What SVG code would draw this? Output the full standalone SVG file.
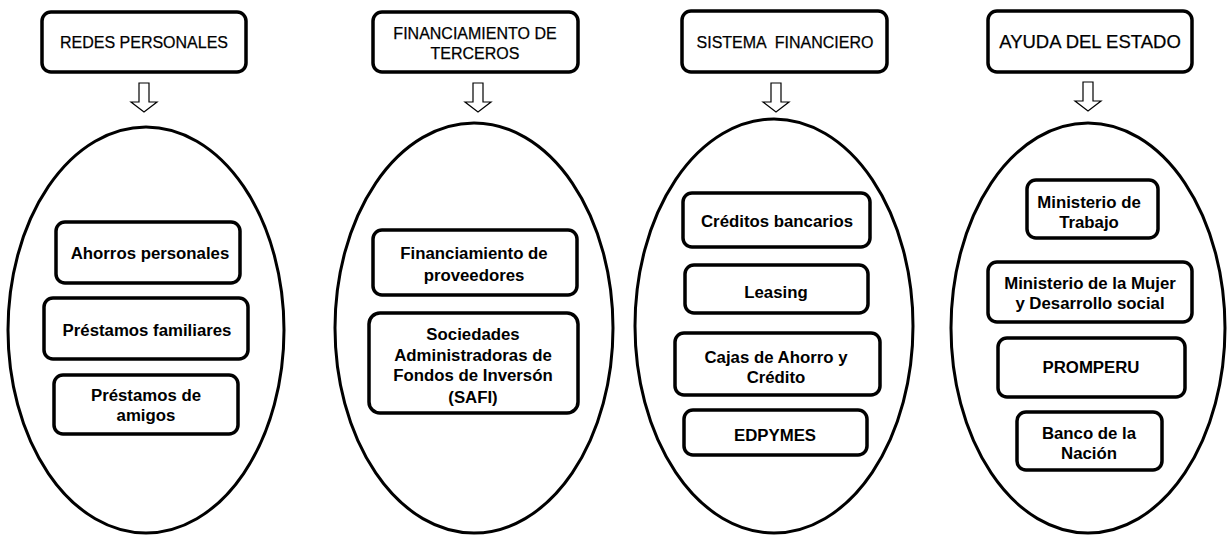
<svg xmlns="http://www.w3.org/2000/svg" width="1227" height="535" viewBox="0 0 1227 535">
<style>
.hdr{fill:#fff;stroke:#000;stroke-width:3.5}
.box{fill:#fff;stroke:#000;stroke-width:3.5}
.ell{fill:#fff;stroke:#000;stroke-width:3}
.arr{fill:#fff;stroke:#000;stroke-width:1.2;stroke-linejoin:miter}
.ht{font-family:"Liberation Sans",Arial,sans-serif;font-size:16px;fill:#000;text-anchor:middle;stroke:#000;stroke-width:0.25}
.bt{font-family:"Liberation Sans",Arial,sans-serif;font-size:16.8px;font-weight:bold;fill:#000;text-anchor:middle}
</style>
<defs>
<path id="darrow" d="M-5,0 H5 V19 H13 L0,29 L-13,19 H-5 Z"/>
</defs>
<rect width="1227" height="535" fill="#fff"/>

<g id="connectors">
<use href="#darrow" class="arr" transform="translate(144,83)"/>
<use href="#darrow" class="arr" transform="translate(478,83)"/>
<use href="#darrow" class="arr" transform="translate(776,83)"/>
<use href="#darrow" class="arr" transform="translate(1088,82)"/>
</g>

<g id="h-redes">
<rect class="hdr" x="42" y="12" width="204" height="60" rx="9"/>
<text class="ht" x="144" y="48">REDES PERSONALES</text>
</g>
<g id="h-financiamiento">
<rect class="hdr" x="373" y="12" width="205" height="60" rx="9"/>
<text class="ht" x="475" y="39">FINANCIAMIENTO DE</text>
<text class="ht" x="475" y="59">TERCEROS</text>
</g>
<g id="h-sistema">
<rect class="hdr" x="682" y="11" width="205" height="61" rx="9"/>
<text class="ht" x="785" y="48" font-size="16.5" xml:space="preserve">SISTEMA  FINANCIERO</text>
</g>
<g id="h-ayuda">
<rect class="hdr" x="988" y="11" width="204" height="61" rx="9"/>
<text class="ht" x="1090" y="48" style="font-size:18.5px">AYUDA DEL ESTADO</text>
</g>

<g id="e-redes">
<ellipse class="ell" cx="146" cy="330" rx="138" ry="203"/>
</g>
<g id="e-financiamiento">
<ellipse class="ell" cx="474" cy="328" rx="139" ry="205"/>
</g>
<g id="e-sistema">
<ellipse class="ell" cx="774" cy="326" rx="139" ry="207"/>
</g>
<g id="e-ayuda">
<ellipse class="ell" cx="1088" cy="328" rx="137" ry="205"/>
</g>

<g id="n-ahorros">
<rect class="box" x="56" y="222" width="184" height="61" rx="9"/>
<text class="bt" x="150" y="259">Ahorros personales</text>
</g>
<g id="n-familiares">
<rect class="box" x="44" y="298" width="204" height="61" rx="9"/>
<text class="bt" x="147" y="336">Préstamos familiares</text>
</g>
<g id="n-amigos">
<rect class="box" x="54" y="375" width="184" height="59" rx="9"/>
<text class="bt" x="146" y="401">Préstamos de</text>
<text class="bt" x="146" y="421">amigos</text>
</g>

<g id="n-proveedores">
<rect class="box" x="373" y="230" width="204" height="65" rx="9"/>
<text class="bt" x="474" y="259">Financiamiento de</text>
<text class="bt" x="474" y="281">proveedores</text>
</g>
<g id="n-safi">
<rect class="box" x="369" y="313" width="209" height="100" rx="11"/>
<text class="bt" x="473" y="340">Sociedades</text>
<text class="bt" x="473" y="361">Administradoras de</text>
<text class="bt" x="473" y="381">Fondos de Inversón</text>
<text class="bt" x="473" y="403">(SAFI)</text>
</g>

<g id="n-creditos">
<rect class="box" x="683" y="193" width="187" height="54" rx="9"/>
<text class="bt" x="777" y="227">Créditos bancarios</text>
</g>
<g id="n-leasing">
<rect class="box" x="685" y="265" width="183" height="48" rx="9"/>
<text class="bt" x="776" y="298">Leasing</text>
</g>
<g id="n-cajas">
<rect class="box" x="675" y="333" width="205" height="62" rx="9"/>
<text class="bt" x="776" y="363">Cajas de Ahorro y</text>
<text class="bt" x="776" y="383">Crédito</text>
</g>
<g id="n-edpymes">
<rect class="box" x="684" y="410" width="183" height="45" rx="9"/>
<text class="bt" x="775" y="441">EDPYMES</text>
</g>

<g id="n-trabajo">
<rect class="box" x="1027" y="180" width="131" height="58" rx="9"/>
<text class="bt" x="1089" y="208">Ministerio de</text>
<text class="bt" x="1089" y="228">Trabajo</text>
</g>
<g id="n-mujer">
<rect class="box" x="988" y="262" width="204" height="60" rx="9"/>
<text class="bt" x="1090" y="289">Ministerio de la Mujer</text>
<text class="bt" x="1090" y="309">y Desarrollo social</text>
</g>
<g id="n-promperu">
<rect class="box" x="998" y="338" width="187" height="59" rx="9"/>
<text class="bt" x="1091" y="373">PROMPERU</text>
</g>
<g id="n-banco">
<rect class="box" x="1017" y="412" width="145" height="58" rx="9"/>
<text class="bt" x="1089" y="439">Banco de la</text>
<text class="bt" x="1089" y="459">Nación</text>
</g>
</svg>
